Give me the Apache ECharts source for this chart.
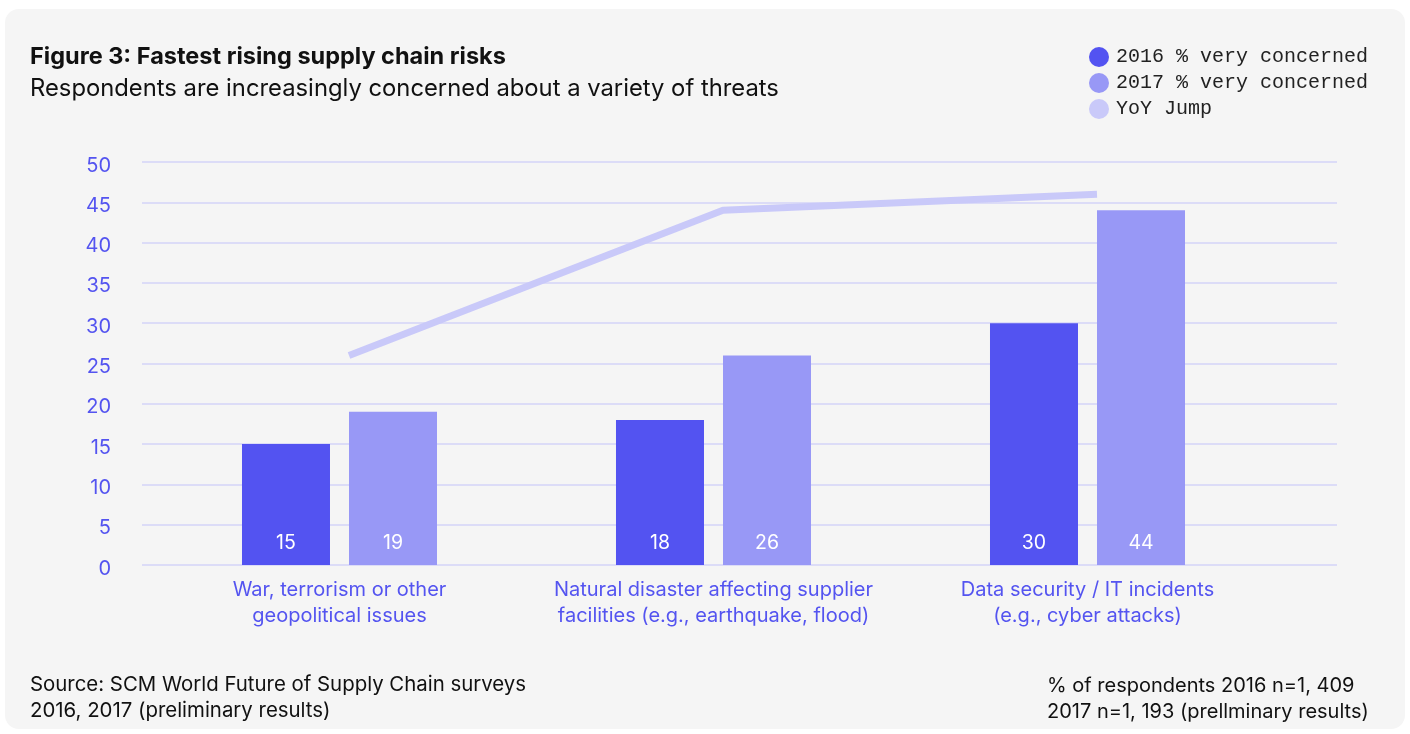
<!DOCTYPE html>
<html>
<head>
<meta charset="utf-8">
<script src="https://cdn.jsdelivr.net/npm/echarts@6/dist/echarts.min.js"></script>
<style>
html,body{margin:0;padding:0;background:#ffffff;}
#chart{width:1410px;height:734px;}
</style>
</head>
<body>
<div id="chart"></div>
<script>
const categories = ["War, terrorism or other\ngeopolitical issues", "Natural disaster affecting supplier\nfacilities (e.g., earthquake, flood)", "Data security / IT incidents\n(e.g., cyber attacks)"];
const values2016 = [15, 18, 30];
const values2017 = [19, 26, 44];
const yoyJump = [26, 44, 46];
const seriesNames = ["2016 % very concerned", "2017 % very concerned", "YoY Jump"];
const yTicks = {min: 0, max: 50, interval: 5};

const FONT = "Inter";
const BLUE = "#5454F0";
const C2016 = "#5353F1";
const C2017 = "#9898F6";
const CLINE = "#C9C9F9";

const chart = echarts.init(document.getElementById('chart'));
const TOP = 162, HEIGHT = 403;
chart.setOption({
  backgroundColor: '#ffffff',
  animation: false,
  graphic: [{
    type: 'rect', z: -10, silent: true,
    shape: {x: 5, y: 9, width: 1400, height: 720, r: 14},
    style: {fill: '#F5F5F5'}
  }],
  title: [
    {text: 'Figure 3: Fastest rising supply chain risks', left: 30, top: 45, padding: 0,
     textStyle: {fontFamily: FONT, fontSize: 23.5, fontWeight: 'bold', color: '#111'}},
    {text: 'Respondents are increasingly concerned about a variety of threats', left: 30, top: 77, padding: 0,
     textStyle: {fontFamily: FONT, fontSize: 23.8, fontWeight: 'normal', color: '#111'}},
    {text: 'Source: SCM World Future of Supply Chain surveys\n2016, 2017 (preliminary results)', left: 30, top: 672, padding: 0,
     textStyle: {fontFamily: FONT, fontSize: 20.4, fontWeight: 'normal', color: '#111', lineHeight: 26}},
    {text: '% of respondents 2016 n=1, 409\n2017 n=1, 193 (prellminary results)', left: 1047, top: 673, padding: 0,
     textStyle: {fontFamily: FONT, fontSize: 20, fontWeight: 'normal', color: '#111', lineHeight: 26}}
  ],
  legend: {
    orient: 'vertical', left: 1084, top: 42,
    icon: 'circle', itemWidth: 20, itemHeight: 20, itemGap: 6,
    data: seriesNames,
    textStyle: {fontFamily: 'Liberation Mono', fontSize: 20, color: '#222', padding: [0,0,0,2]}
  },
  grid: [
    {left: 142, width: 1195, top: TOP, height: HEIGHT},
    {left: 152.5, width: 1122, top: TOP, height: HEIGHT},
    {left: 162, width: 1122, top: TOP, height: HEIGHT},
    {left: 142, width: 1195, top: TOP + 3.5, height: HEIGHT}
  ],
  xAxis: [
    {type: 'category', gridIndex: 0, data: categories, show: false},
    {type: 'category', gridIndex: 1, data: categories,
     axisLine: {show: false}, axisTick: {show: false},
     axisLabel: {fontFamily: FONT, fontSize: 20, color: BLUE, lineHeight: 26, margin: 12, interval: 0}},
    {type: 'category', gridIndex: 2, data: categories, show: false},
    {type: 'category', gridIndex: 3, data: categories, show: false}
  ],
  yAxis: [
    {type: 'value', gridIndex: 0, min: yTicks.min, max: yTicks.max, interval: yTicks.interval,
     axisLine: {show: false}, axisTick: {show: false}, axisLabel: {show: false},
     splitLine: {lineStyle: {color: '#DCDCF7', width: 2}}},
    {type: 'value', gridIndex: 1, min: yTicks.min, max: yTicks.max, interval: yTicks.interval, show: false, splitLine: {show: false}},
    {type: 'value', gridIndex: 2, min: yTicks.min, max: yTicks.max, interval: yTicks.interval, show: false, splitLine: {show: false}},
    {type: 'value', gridIndex: 3, min: yTicks.min, max: yTicks.max, interval: yTicks.interval,
     axisLine: {show: false}, axisTick: {show: false}, splitLine: {show: false},
     axisLabel: {fontFamily: FONT, fontSize: 20, color: BLUE, margin: 31}}
  ],
  series: [
    {name: seriesNames[0], type: 'bar', xAxisIndex: 1, yAxisIndex: 1, data: values2016,
     barWidth: 88, barGap: '21.6%', itemStyle: {color: C2016},
     label: {show: true, position: 'insideBottom', distance: 12, color: '#fff', fontFamily: FONT, fontSize: 19.5}},
    {name: seriesNames[1], type: 'bar', xAxisIndex: 1, yAxisIndex: 1, data: values2017,
     barWidth: 88, barGap: '21.6%', itemStyle: {color: C2017},
     label: {show: true, position: 'insideBottom', distance: 12, color: '#fff', fontFamily: FONT, fontSize: 19.5}},
    {name: seriesNames[2], type: 'line', xAxisIndex: 2, yAxisIndex: 2, data: yoyJump,
     symbol: 'none', itemStyle: {color: CLINE}, lineStyle: {color: CLINE, width: 7}, z: 5}
  ]
});
</script>
</body>
</html>
